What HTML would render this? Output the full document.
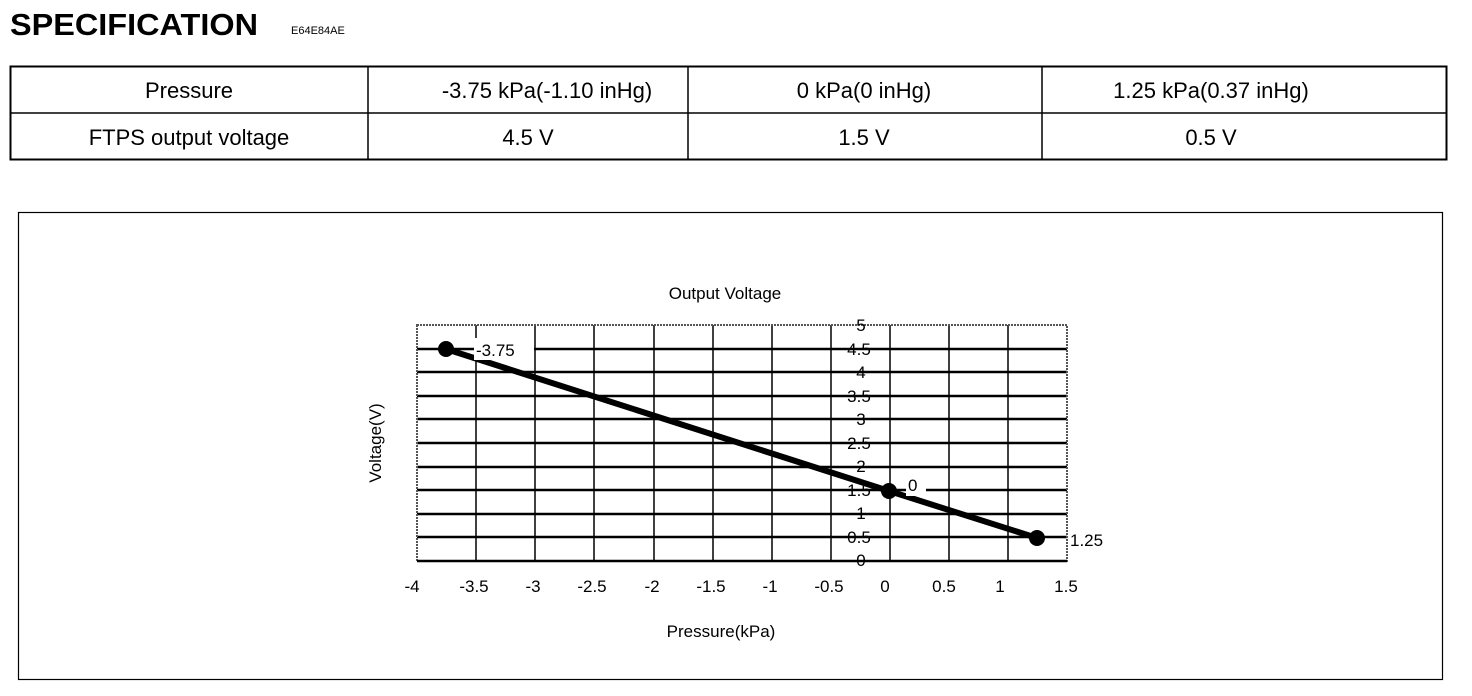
<!DOCTYPE html>
<html><head><meta charset="utf-8"><style>
body{margin:0;background:#fff;}
svg{display:block;font-family:"Liberation Sans",Arial,sans-serif;}
</style></head><body>
<svg width="1472" height="696" viewBox="0 0 1472 696">
<text x="10" y="35" font-size="31" font-weight="bold" textLength="248" lengthAdjust="spacingAndGlyphs">SPECIFICATION</text>
<text x="291" y="34" font-size="11">E64E84AE</text>
<g stroke="#000" fill="none">
<rect x="10.5" y="66.5" width="1436" height="93" stroke-width="2"/>
<line x1="10" y1="113" x2="1446" y2="113" stroke-width="1.5"/>
<line x1="368" y1="66" x2="368" y2="160" stroke-width="1.5"/>
<line x1="688" y1="66" x2="688" y2="160" stroke-width="1.5"/>
<line x1="1042" y1="66" x2="1042" y2="160" stroke-width="1.5"/>
</g>
<g font-size="22" text-anchor="middle">
<text x="189" y="98">Pressure</text>
<text x="547" y="98">-3.75 kPa(-1.10 inHg)</text>
<text x="864" y="98">0 kPa(0 inHg)</text>
<text x="1211" y="98">1.25 kPa(0.37 inHg)</text>
<text x="189" y="145">FTPS output voltage</text>
<text x="528" y="145">4.5  V</text>
<text x="864" y="145">1.5  V</text>
<text x="1211" y="145">0.5  V</text>
</g>
<rect x="18.5" y="212.5" width="1424" height="467" fill="none" stroke="#000" stroke-width="1.2"/>
<text x="725" y="299" font-size="17" text-anchor="middle">Output Voltage</text>
<g stroke="#000" stroke-width="1.5">
<line x1="476" y1="325" x2="476" y2="561"/><line x1="535" y1="325" x2="535" y2="561"/>
<line x1="594" y1="325" x2="594" y2="561"/><line x1="654" y1="325" x2="654" y2="561"/>
<line x1="713" y1="325" x2="713" y2="561"/><line x1="772" y1="325" x2="772" y2="561"/>
<line x1="831" y1="325" x2="831" y2="561"/><line x1="890" y1="325" x2="890" y2="561"/>
<line x1="949" y1="325" x2="949" y2="561"/><line x1="1008" y1="325" x2="1008" y2="561"/>
</g>
<g stroke="#000" stroke-width="2.5">
<line x1="417" y1="537" x2="1067" y2="537"/><line x1="417" y1="514" x2="1067" y2="514"/>
<line x1="417" y1="490" x2="1067" y2="490"/><line x1="417" y1="467" x2="1067" y2="467"/>
<line x1="417" y1="443" x2="1067" y2="443"/><line x1="417" y1="419" x2="1067" y2="419"/>
<line x1="417" y1="396" x2="1067" y2="396"/><line x1="417" y1="372" x2="1067" y2="372"/>
<line x1="417" y1="349" x2="1067" y2="349"/>
</g>
<rect x="417" y="325" width="650" height="236" fill="none" stroke="#555" stroke-width="2" stroke-dasharray="2,1"/>
<line x1="417" y1="561" x2="1067" y2="561" stroke="#000" stroke-width="2.5"/>
<g font-size="17" text-anchor="middle">
<text x="861" y="566">0</text><text x="859" y="543">0.5</text><text x="861" y="519">1</text>
<text x="859" y="496">1.5</text><text x="861" y="472">2</text><text x="859" y="449">2.5</text>
<text x="861" y="425">3</text><text x="859" y="402">3.5</text><text x="861" y="378">4</text>
<text x="859" y="355">4.5</text><text x="861" y="331">5</text>
</g>
<g font-size="17" text-anchor="middle">
<text x="412" y="592">-4</text><text x="474" y="592">-3.5</text><text x="533" y="592">-3</text>
<text x="592" y="592">-2.5</text><text x="652" y="592">-2</text><text x="711" y="592">-1.5</text>
<text x="770" y="592">-1</text><text x="829" y="592">-0.5</text><text x="885" y="592">0</text>
<text x="944" y="592">0.5</text><text x="1000" y="592">1</text><text x="1066" y="592">1.5</text>
</g>
<polyline points="446,349 889,491 1037,538" fill="none" stroke="#000" stroke-width="6"/>
<circle cx="446" cy="349" r="8"/><circle cx="889" cy="491" r="8"/><circle cx="1037" cy="538" r="8"/>
<rect x="474" y="338" width="60" height="22" fill="#fff"/>
<text x="476" y="356" font-size="17">-3.75</text>
<rect x="906" y="474" width="20" height="22" fill="#fff"/>
<text x="908" y="491" font-size="17">0</text>
<text x="1070" y="546" font-size="17">1.25</text>
<text x="721" y="637" font-size="17" text-anchor="middle">Pressure(kPa)</text>
<text transform="translate(381,443) rotate(-90)" font-size="17" text-anchor="middle">Voltage(V)</text>
</svg>
</body></html>
